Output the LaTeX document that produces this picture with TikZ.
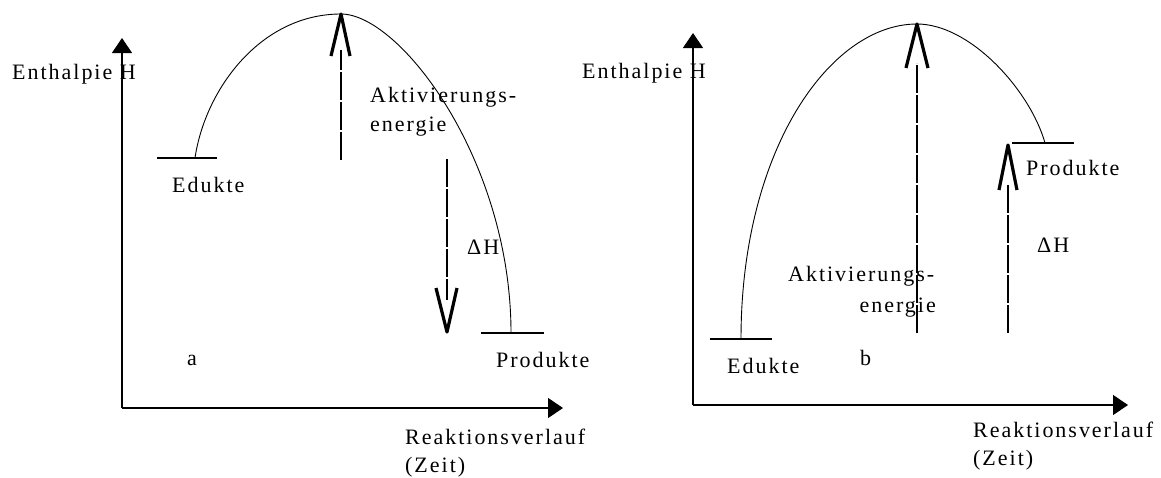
\documentclass[tikz,border=0pt]{standalone}
\usepackage{fontspec}
\setmainfont[LetterSpace=9]{Liberation Serif}
\usetikzlibrary{arrows.meta,calc}
\begin{document}
\begin{tikzpicture}[x=1pt,y=-1pt,
  axis/.style={line width=1.2pt,-{Triangle[length=15pt,width=20pt]}},
  level/.style={line width=1.5pt},
  curve/.style={line width=0.9pt},
  dashline/.style={line width=1.1pt,dash pattern=on 28pt off 2pt},
  vhead/.style={line width=3.2pt,line join=round,line cap=butt},
  lbl/.style={anchor=base west,inner sep=0pt,font=\fontsize{22}{26}\selectfont}]
\useasboundingbox (0,0) rectangle (1161,477);
% ---------------- left diagram (a) ----------------
\coordinate (oL) at (122,408);
\coordinate (yTopL) at (122,38);
\coordinate (xEndL) at (563,408);
\draw[axis] (oL) -- (yTopL);
\draw[axis] (oL) -- (xEndL);
\coordinate (eduL1) at (157,158);
\coordinate (eduL2) at (217,158);
\coordinate (proL1) at (481,333);
\coordinate (proL2) at (544,333);
\draw[level] (eduL1) -- (eduL2);
\draw[level] (proL1) -- (proL2);
\coordinate (cStartL) at (195,158);
\coordinate (peakL) at (341,14);
\coordinate (cEndL) at (511,333);
\draw[curve] (cStartL) .. controls (205,90) and (260,14) .. (peakL)
  .. controls (400,14) and (511,160) .. (cEndL);
% activation energy arrow (up)
\coordinate (actBaseL) at (341,160);
\coordinate (actTopL) at (341,50);
\draw[dashline] (actBaseL) -- (actTopL);
\draw[vhead] ($(peakL)+(-10,42)$) -- (peakL) -- ($(peakL)+(9,42)$);
% enthalpy arrow (down)
\coordinate (dhBaseL) at (447,159);
\coordinate (dhTipL) at (447,332);
\coordinate (dhEndL) at (447,300);
\draw[dashline] (dhBaseL) -- (dhEndL);
\draw[vhead] ($(dhTipL)+(-11,-44)$) -- (dhTipL) -- ($(dhTipL)+(10,-44)$);
% texts
\node[lbl] (enthL) at (12,79) {Enthalpie H};
\node[lbl] (eduLt) at (172,192) {Edukte};
\node[lbl] (aktL1) at (370,102) {Aktivierungs-};
\node[lbl] (aktL2) at (370,131) {energie};
\node[lbl] (dhL) at (467,254) {ΔH};
\node[lbl] (proLt) at (496,367) {Produkte};
\node[lbl] (aL) at (187,365) {a};
\node[lbl] (reaL) at (405,444) {Reaktionsverlauf};
\node[lbl] (zeitL) at (405,472) {(Zeit)};
% ---------------- right diagram (b) ----------------
\coordinate (oR) at (693,405);
\coordinate (yTopR) at (693,33);
\coordinate (xEndR) at (1128,405);
\draw[axis] (oR) -- (yTopR);
\draw[axis] (oR) -- (xEndR);
\coordinate (eduR1) at (710,339);
\coordinate (eduR2) at (772,339);
\coordinate (proR1) at (1012,143);
\coordinate (proR2) at (1074,143);
\draw[level] (eduR1) -- (eduR2);
\draw[level] (proR1) -- (proR2);
\coordinate (cStartR) at (741,339);
\coordinate (peakR) at (917,24);
\coordinate (cEndR) at (1045,143);
\draw[curve] (cStartR) .. controls (741,150) and (830,24) .. (peakR)
  .. controls (970,24) and (1030,90) .. (cEndR);
% activation energy arrow (up)
\coordinate (actBaseR) at (917,333);
\coordinate (actTopR) at (917,63);
\draw[dashline] (actBaseR) -- (actTopR);
\draw[vhead] ($(peakR)+(-11,44)$) -- (peakR) -- ($(peakR)+(11,44)$);
% enthalpy arrow (up)
\coordinate (dhBaseR) at (1008,333);
\coordinate (dhTipR) at (1008,145);
\coordinate (dhEndR) at (1008,185);
\draw[dashline] (dhBaseR) -- (dhEndR);
\draw[vhead] ($(dhTipR)+(-9,45)$) -- (dhTipR) -- ($(dhTipR)+(9,45)$);
% texts
\node[lbl] (enthR) at (582,78) {Enthalpie H};
\node[lbl] (eduRt) at (727,373) {Edukte};
\node[lbl] (aktR1) at (788,281) {Aktivierungs-};
\node[lbl,anchor=base east] (aktR2) at (936,312) {energie};
\node[lbl] (dhR) at (1037,252) {ΔH};
\node[lbl] (proRt) at (1026,175) {Produkte};
\node[lbl] (bR) at (860,365) {b};
\node[lbl] (reaR) at (973,437) {Reaktionsverlauf};
\node[lbl] (zeitR) at (973,465) {(Zeit)};
\end{tikzpicture}
\end{document}
